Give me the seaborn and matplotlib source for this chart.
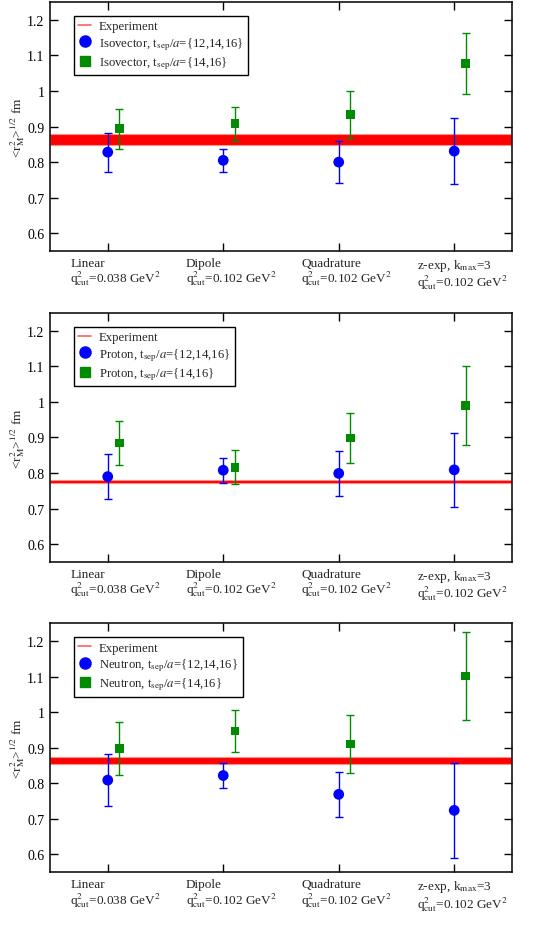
import numpy as np
import pandas as pd
import seaborn as sns
import matplotlib.pyplot as plt
from matplotlib.lines import Line2D

# fit forms along the x axis
fits = ["Linear", "Dipole", "Quadrature", "z-exp"]
fit_labels = [
    "Linear\nq$^2_{\\rm cut}$=0.038 GeV$^2$",
    "Dipole\nq$^2_{\\rm cut}$=0.102 GeV$^2$",
    "Quadrature\nq$^2_{\\rm cut}$=0.102 GeV$^2$",
    "z-exp, k$_{\\rm max}$=3\nq$^2_{\\rm cut}$=0.102 GeV$^2$",
]
channels = ["Isovector", "Proton", "Neutron"]

# experimental magnetic radii (centre, half width)
exp_center = [0.863, 0.776, 0.864]
exp_err = [0.015, 0.005, 0.010]

# t_sep/a = {12,14,16}
iso_all = [0.828, 0.805, 0.800, 0.831]
iso_all_err = [0.055, 0.033, 0.058, 0.093]
pro_all = [0.790, 0.808, 0.799, 0.809]
pro_all_err = [0.064, 0.035, 0.064, 0.105]
neu_all = [0.809, 0.822, 0.769, 0.724]
neu_all_err = [0.073, 0.034, 0.064, 0.134]

# t_sep/a = {14,16}
iso_late = [0.894, 0.908, 0.934, 1.078]
iso_late_err = [0.056, 0.048, 0.065, 0.086]
pro_late = [0.884, 0.816, 0.898, 0.990]
pro_late_err = [0.061, 0.048, 0.071, 0.110]
neu_late = [0.898, 0.947, 0.911, 1.102]
neu_late_err = [0.074, 0.060, 0.082, 0.124]

ytick_vals = [0.6, 0.7, 0.8, 0.9, 1.0, 1.1, 1.2]
ytick_labels = ["0.6", "0.7", "0.8", "0.9", "1", "1.1", "1.2"]

rows = []
series = {
    "Isovector": (iso_all, iso_all_err, iso_late, iso_late_err),
    "Proton": (pro_all, pro_all_err, pro_late, pro_late_err),
    "Neutron": (neu_all, neu_all_err, neu_late, neu_late_err),
}
for ch in channels:
    a, ae, l, le = series[ch]
    for i, f in enumerate(fits):
        rows.append([ch, f, i, "all", a[i], ae[i]])
        rows.append([ch, f, i + 0.1, "late", l[i], le[i]])
df = pd.DataFrame(rows, columns=["channel", "fit", "x", "tsep", "value", "err"])

sns.set_theme(style="ticks")
plt.rcParams["font.family"] = ["Liberation Serif", "DejaVu Serif"]
plt.rcParams["mathtext.fontset"] = "stix"

colors = {"all": "#0000ff", "late": "#008b00"}

fig = plt.figure(figsize=(5.53, 9.29), dpi=100)
bottoms = [0.7287, 0.394, 0.060]

for k, ch in enumerate(channels):
    ax = fig.add_axes([0.0904, bottoms[k], 0.8354, 0.268])
    sub = df[df.channel == ch]

    ax.axhspan(exp_center[k] - exp_err[k], exp_center[k] + exp_err[k],
               facecolor="red", edgecolor="#ff9090", lw=0.8, zorder=1)

    for t in ["all", "late"]:
        s = sub[sub.tsep == t]
        ax.errorbar(s.x, s.value, yerr=s.err, fmt="none", ecolor=colors[t],
                    elinewidth=1, capsize=3, capthick=1, zorder=2)

    sns.scatterplot(data=sub, x="x", y="value", hue="tsep", style="tsep",
                    size="tsep", sizes={"all": 60, "late": 38},
                    markers={"all": "o", "late": "s"}, palette=colors,
                    linewidth=0, legend=False, ax=ax, zorder=3)

    ax.set_xlim(-0.5, 3.5)
    ax.set_ylim(0.55, 1.25)
    ax.set_xticks(range(len(fits)))
    ax.set_xticklabels([])
    # category labels, left aligned a bit left of each tick
    for i, lab in enumerate(fit_labels):
        ax.annotate(lab, xy=(i, 0), xycoords=("data", "axes fraction"),
                    xytext=(-27, -4), textcoords="offset points",
                    ha="left", va="top", fontsize=9.5, linespacing=1.0)
    ax.set_yticks(ytick_vals)
    ax.set_yticklabels(ytick_labels, fontsize=10)
    ax.tick_params(direction="in", length=6, width=1, top=True, right=True,
                   color="black", labelcolor="black", pad=4)
    for sp in ax.spines.values():
        sp.set_linewidth(1.1)
        sp.set_color("black")
    ax.set_xlabel("")
    ax.set_ylabel("<r$^2_{\\rm M}$>$^{1/2}$ fm", fontsize=9.5, labelpad=0)

    handles = [
        Line2D([], [], color="#ff6060", lw=1.2),
        Line2D([], [], color="#0000ff", marker="o", ls="none", markersize=8),
        Line2D([], [], color="#008b00", marker="s", ls="none", markersize=6.5),
    ]
    labels = [
        "Experiment",
        ch + ", t$_{\\rm sep}$/$a$={12,14,16}",
        ch + ", t$_{\\rm sep}$/$a$={14,16}",
    ]
    leg = ax.legend(handles, labels, loc="upper left",
                    bbox_to_anchor=(0.052, 0.944), borderaxespad=0,
                    fontsize=9.2, handlelength=1.0, handletextpad=0.6,
                    labelspacing=0.2, borderpad=0.35, fancybox=False,
                    framealpha=1)
    leg.get_frame().set_edgecolor("black")
    leg.get_frame().set_linewidth(1.0)

plt.savefig("out.png", dpi=100)
